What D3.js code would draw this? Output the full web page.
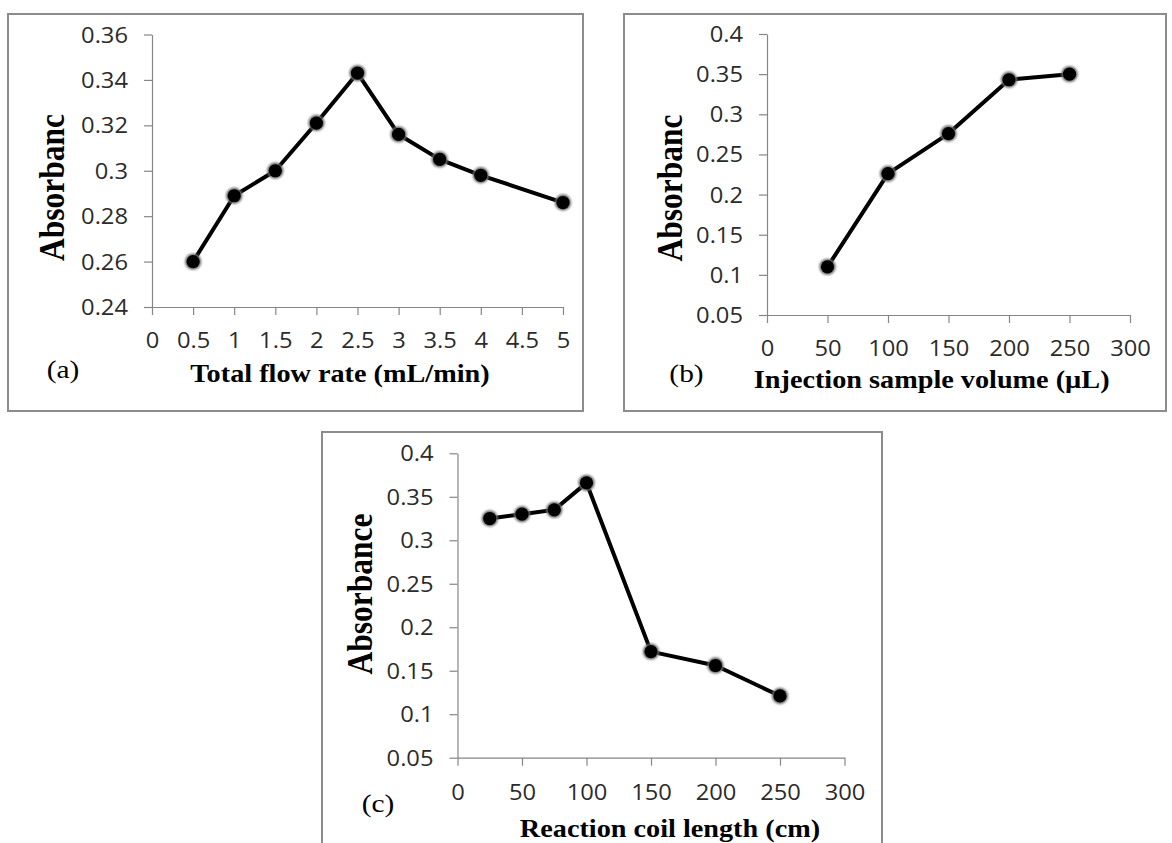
<!DOCTYPE html>
<html>
<head>
<meta charset="utf-8">
<script src="https://cdn.jsdelivr.net/npm/d3@7"></script>
<style>
  body { margin: 0; background: #fff; }
  svg { display: block; }
</style>
</head>
<body>
<script>
const width = 1172;
const height = 843;

// (a) total flow rate
const flowRate = [0.5, 1, 1.5, 2, 2.5, 3, 3.5, 4, 5];
const flowAbs = [0.260, 0.289, 0.300, 0.321, 0.343, 0.316, 0.305, 0.298, 0.286];
const flowTicksX = [0, 0.5, 1, 1.5, 2, 2.5, 3, 3.5, 4, 4.5, 5];
const flowTicksY = [0.24, 0.26, 0.28, 0.30, 0.32, 0.34, 0.36];

// (b) injection sample volume
const sampleVol = [50, 100, 150, 200, 250];
const sampleAbs = [0.110, 0.226, 0.276, 0.343, 0.350];
const sampleTicksX = [0, 50, 100, 150, 200, 250, 300];

// (c) reaction coil length
const coilLen = [25, 50, 75, 100, 150, 200, 250];
const coilAbs = [0.325, 0.330, 0.335, 0.366, 0.172, 0.156, 0.121];
const coilTicksX = [0, 50, 100, 150, 200, 250, 300];

const absTicksY = [0.05, 0.1, 0.15, 0.2, 0.25, 0.3, 0.35, 0.4];

// the original figure is a bit stretched sideways
const sx = 1.13;
const serif = "'Liberation Serif', 'Times New Roman', serif";

const panels = [
  {tag: '(a)', xTitle: 'Total flow rate (mL/min)', yTitle: 'Absorbanc',
   xs: flowRate, ys: flowAbs, xTicks: flowTicksX, yTicks: flowTicksY,
   box: [8, 14, 583, 411], plot: {left: 152, right: 563, top: 34.5, bottom: 307},
   labelDy: 33, tagPos: [63, 378], xTitlePos: [340, 382], yTitlePos: [51.7, 187.5]},
  {tag: '(b)', xTitle: 'Injection sample volume (\u00b5L)', yTitle: 'Absorbanc',
   xs: sampleVol, ys: sampleAbs, xTicks: sampleTicksX, yTicks: absTicksY,
   box: [624, 14, 1166, 411], plot: {left: 767, right: 1130, top: 34, bottom: 315},
   labelDy: 33, tagPos: [686.5, 382], xTitlePos: [931.7, 388], yTitlePos: [670, 188]},
  {tag: '(c)', xTitle: 'Reaction coil length (cm)', yTitle: 'Absorbance',
   xs: coilLen, ys: coilAbs, xTicks: coilTicksX, yTicks: absTicksY,
   box: [322, 432, 882, 880], plot: {left: 457.5, right: 844.5, top: 453.3, bottom: 757.7},
   labelDy: 35, tagPos: [378, 812], xTitlePos: [670, 837], yTitlePos: [359.3, 594]}
];

const svg = d3.select('body').append('svg')
  .attr('width', width)
  .attr('height', height);

svg.append('rect').attr('width', width).attr('height', height).attr('fill', '#fff');

// soft grey halo round the markers
svg.append('defs').append('filter')
  .attr('id', 'soft')
  .attr('x', '-50%').attr('y', '-50%').attr('width', '200%').attr('height', '200%')
  .append('feGaussianBlur').attr('stdDeviation', 0.8);

const fmt = d => String(+d.toFixed(3));

for (const p of panels) {
  const g = svg.append('g');

  g.append('rect')
    .attr('x', p.box[0]).attr('y', p.box[1])
    .attr('width', p.box[2] - p.box[0]).attr('height', p.box[3] - p.box[1])
    .attr('fill', '#fff')
    .attr('stroke', '#8c8c8c')
    .attr('stroke-width', 2);

  const x = d3.scaleLinear()
    .domain(d3.extent(p.xTicks))
    .range([p.plot.left, p.plot.right]);

  const y = d3.scaleLinear()
    .domain(d3.extent(p.yTicks))
    .range([p.plot.bottom, p.plot.top]);

  const xAxis = g.append('g')
    .attr('transform', `translate(0,${p.plot.bottom})`)
    .call(d3.axisBottom(x).tickValues(p.xTicks).tickFormat(fmt).tickSize(8).tickSizeOuter(0))
    .attr('font-family', "'Open Sans', sans-serif")
    .attr('font-size', 21);
  xAxis.selectAll('.tick text')
    .attr('y', 0)
    .attr('dy', '0.36em')
    .attr('fill', '#2b2b2b')
    .attr('transform', `translate(0,${p.labelDy}) scale(${sx},1)`);

  const yAxis = g.append('g')
    .attr('transform', `translate(${p.plot.left},0)`)
    .call(d3.axisLeft(y).tickValues(p.yTicks).tickFormat(fmt).tickSize(8).tickSizeOuter(0))
    .attr('font-family', "'Open Sans', sans-serif")
    .attr('font-size', 21);
  yAxis.selectAll('.tick text')
    .attr('x', 0)
    .attr('dy', '0.36em')
    .attr('fill', '#2b2b2b')
    .attr('transform', `translate(-24,0) scale(${sx},1)`);

  for (const a of [xAxis, yAxis]) {
    a.select('.domain').attr('stroke', '#868686').attr('stroke-width', 1.2);
    a.selectAll('.tick line').attr('stroke', '#868686').attr('stroke-width', 1.2);
  }

  const pts = p.xs.map((v, i) => ({x: v, y: p.ys[i]}));

  const line = d3.line()
    .x(d => x(d.x))
    .y(d => y(d.y));

  g.append('path')
    .datum(pts)
    .attr('fill', 'none')
    .attr('stroke', '#000')
    .attr('stroke-width', 4)
    .attr('stroke-linejoin', 'round')
    .attr('d', line);

  // markers: grey rim, black core
  g.selectAll('circle.rim')
    .data(pts)
    .join('circle')
    .attr('class', 'rim')
    .attr('cx', d => x(d.x))
    .attr('cy', d => y(d.y))
    .attr('r', 8.2)
    .attr('fill', '#6f6f6f')
    .attr('filter', 'url(#soft)');
  g.selectAll('circle.core')
    .data(pts)
    .join('circle')
    .attr('class', 'core')
    .attr('cx', d => x(d.x))
    .attr('cy', d => y(d.y))
    .attr('r', 6.6)
    .attr('fill', '#000');

  g.append('text')
    .attr('transform', `translate(${p.xTitlePos[0]},${p.xTitlePos[1]}) scale(${sx},1)`)
    .attr('text-anchor', 'middle')
    .attr('font-family', serif)
    .attr('font-weight', 'bold')
    .attr('font-size', 25)
    .attr('fill', '#000')
    .text(p.xTitle);

  g.append('text')
    .attr('transform', `translate(${p.tagPos[0]},${p.tagPos[1]}) scale(${sx},1)`)
    .attr('text-anchor', 'middle')
    .attr('font-family', serif)
    .attr('font-size', 26)
    .attr('fill', '#000')
    .text(p.tag);

  g.append('text')
    .attr('transform', `translate(${p.yTitlePos[0]},${p.yTitlePos[1]}) rotate(-90) scale(1,${sx})`)
    .attr('text-anchor', 'middle')
    .attr('dy', '0.35em')
    .attr('font-family', serif)
    .attr('font-weight', 'bold')
    .attr('font-size', 31.5)
    .attr('fill', '#000')
    .text(p.yTitle);
}
</script>
</body>
</html>
